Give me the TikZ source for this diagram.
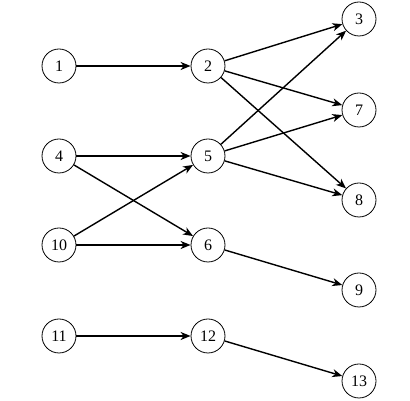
\documentclass[tikz,border=0pt]{standalone}
\usepackage{fontspec}
\setmainfont{Liberation Serif}
\usetikzlibrary{arrows.meta}
\begin{document}
\begin{tikzpicture}[x=1pt,y=1pt,
  vertex/.style={circle,draw,line width=0.8pt,minimum size=34pt,inner sep=0pt,font=\fontsize{16}{16}\selectfont},
  edge/.style={-{Stealth[length=10pt,width=8pt,inset=3pt]},line width=1.4pt}]
\useasboundingbox (0,0) rectangle (410,401);
\node[vertex] (n1) at (59,335) {1};
\node[vertex] (n2) at (208,335) {2};
\node[vertex] (n3) at (359,382) {3};
\node[vertex] (n4) at (59,245) {4};
\node[vertex] (n5) at (208,245) {5};
\node[vertex] (n7) at (359,291) {7};
\node[vertex] (n8) at (359,201) {8};
\node[vertex] (n10) at (59,156) {10};
\node[vertex] (n6) at (208,156) {6};
\node[vertex] (n9) at (359,111) {9};
\node[vertex] (n11) at (59,65) {11};
\node[vertex] (n12) at (208,65) {12};
\node[vertex] (n13) at (359,20) {13};
\draw[edge] (n1) -- (n2);
\draw[edge] (n2) -- (n3);
\draw[edge] (n2) -- (n7);
\draw[edge] (n2) -- (n8);
\draw[edge] (n4) -- (n5);
\draw[edge] (n4) -- (n6);
\draw[edge] (n10) -- (n5);
\draw[edge] (n10) -- (n6);
\draw[edge] (n5) -- (n3);
\draw[edge] (n5) -- (n7);
\draw[edge] (n5) -- (n8);
\draw[edge] (n6) -- (n9);
\draw[edge] (n11) -- (n12);
\draw[edge] (n12) -- (n13);
\end{tikzpicture}
\end{document}
